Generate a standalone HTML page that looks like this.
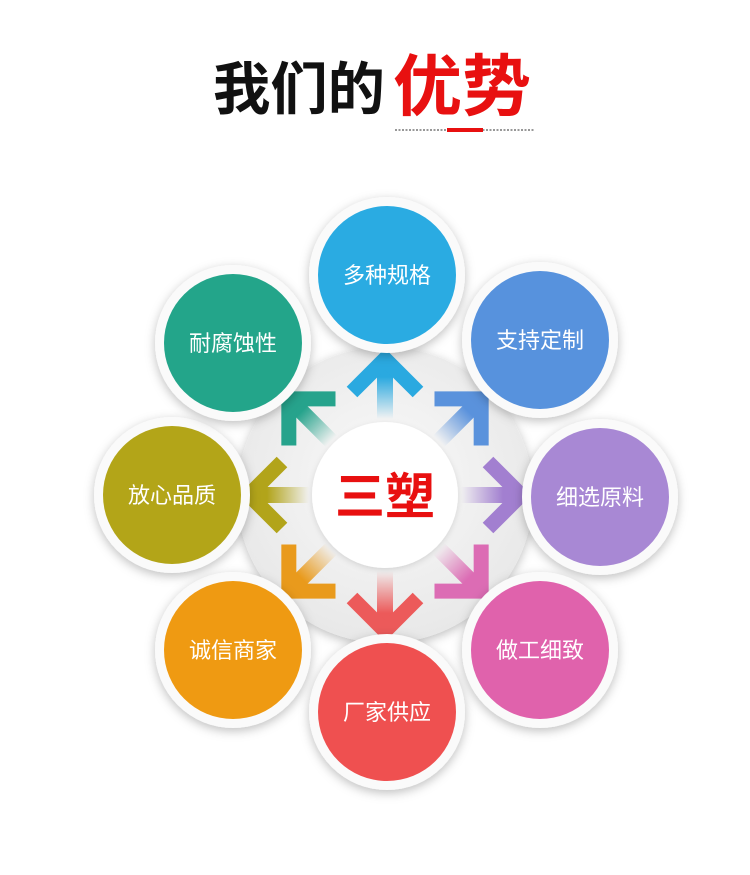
<!DOCTYPE html>
<html><head><meta charset="utf-8"><style>
body{margin:0;background:#fff;width:750px;height:870px;overflow:hidden;font-family:"Liberation Sans","Noto Sans CJK SC",sans-serif}
</style></head><body>
<svg width="750" height="870" viewBox="0 0 750 870" xmlns="http://www.w3.org/2000/svg">
<defs>
<filter id="sh" x="-30%" y="-30%" width="160%" height="160%"><feDropShadow dx="0" dy="3" stdDeviation="5" flood-color="#000" flood-opacity="0.25"/></filter>
<filter id="sh2" x="-30%" y="-30%" width="160%" height="160%"><feDropShadow dx="0" dy="2" stdDeviation="3" flood-color="#000" flood-opacity="0.12"/></filter>
<radialGradient id="disc" cx="50%" cy="45%" r="55%"><stop offset="0" stop-color="#fafafa"/><stop offset="1" stop-color="#e8e8e8"/></radialGradient>
</defs>
<text x="213" y="109" font-size="57" font-weight="bold" fill="#111" font-family="Noto Sans CJK SC,sans-serif" textLength="172" lengthAdjust="spacingAndGlyphs">我们的</text>
<text x="393" y="110" font-size="67" font-weight="bold" fill="#e81010" font-family="Noto Sans CJK SC,sans-serif" textLength="138" lengthAdjust="spacingAndGlyphs">优势</text>
<line x1="395" y1="130" x2="535" y2="130" stroke="#777" stroke-width="1.5" stroke-dasharray="2,1.5"/>
<rect x="447" y="128" width="36" height="4" fill="#e81010"/>

<circle cx="385" cy="495" r="148" fill="url(#disc)" filter="url(#sh)"/>
<circle cx="385" cy="495" r="73" fill="#fff" filter="url(#sh2)"/>

<g id="arrows"></g>

<text x="385" y="514" font-size="50" font-weight="bold" fill="#e81010" text-anchor="middle" font-family="Noto Sans CJK SC,sans-serif">三塑</text>

<g id="nodes"></g>
</svg>
<script>
const ns="http://www.w3.org/2000/svg";
const arr=[[0,"#2aa9e0"],[45,"#5a92dc"],[90,"#a27fd0"],[135,"#dc6cb4"],[180,"#ec5a5a"],[225,"#e99a1c"],[270,"#b2a41a"],[315,"#26a38c"]];
const ag=document.getElementById("arrows");
const defs=document.querySelector("defs");
arr.forEach(([a,c],i)=>{
 const g=document.createElementNS(ns,"linearGradient");
 g.setAttribute("id","ag"+i);g.setAttribute("gradientUnits","userSpaceOnUse");
 g.setAttribute("x1","0");g.setAttribute("y1","-76");g.setAttribute("x2","0");g.setAttribute("y2","-118");
 g.innerHTML=`<stop offset="0" stop-color="${c}" stop-opacity="0"/><stop offset="1" stop-color="${c}"/>`;
 defs.appendChild(g);
 const grp=document.createElementNS(ns,"g");
 grp.setAttribute("transform",`translate(385 495) rotate(${a})`);
 grp.innerHTML=`<line x1="0" y1="-76" x2="0" y2="-128" stroke="url(#ag${i})" stroke-width="16"/>
 <polyline points="-33,-103 0,-136 33,-103" fill="none" stroke="${c}" stroke-width="15" stroke-linejoin="miter"/>`;
 ag.appendChild(grp);
});
const nodes=[[387,275,"#2aabe2","多种规格"],[540,340,"#5792dd","支持定制"],[600,497,"#a888d4","细选原料"],[540,650,"#e062ac","做工细致"],[387,712,"#ef5050","厂家供应"],[233,650,"#ef9a12","诚信商家"],[172,495,"#b3a518","放心品质"],[233,343,"#23a58a","耐腐蚀性"]];
const ng=document.getElementById("nodes");
nodes.forEach(([x,y,c,t])=>{
 ng.innerHTML+=`<circle cx="${x}" cy="${y}" r="78" fill="#fafafa" filter="url(#sh)"/>
 <circle cx="${x}" cy="${y}" r="69" fill="${c}"/>
 <text x="${x}" y="${y+8}" font-size="22" fill="#fff" text-anchor="middle" font-family="Noto Sans CJK SC,sans-serif">${t}</text>`;
});
</script>
</body></html>
